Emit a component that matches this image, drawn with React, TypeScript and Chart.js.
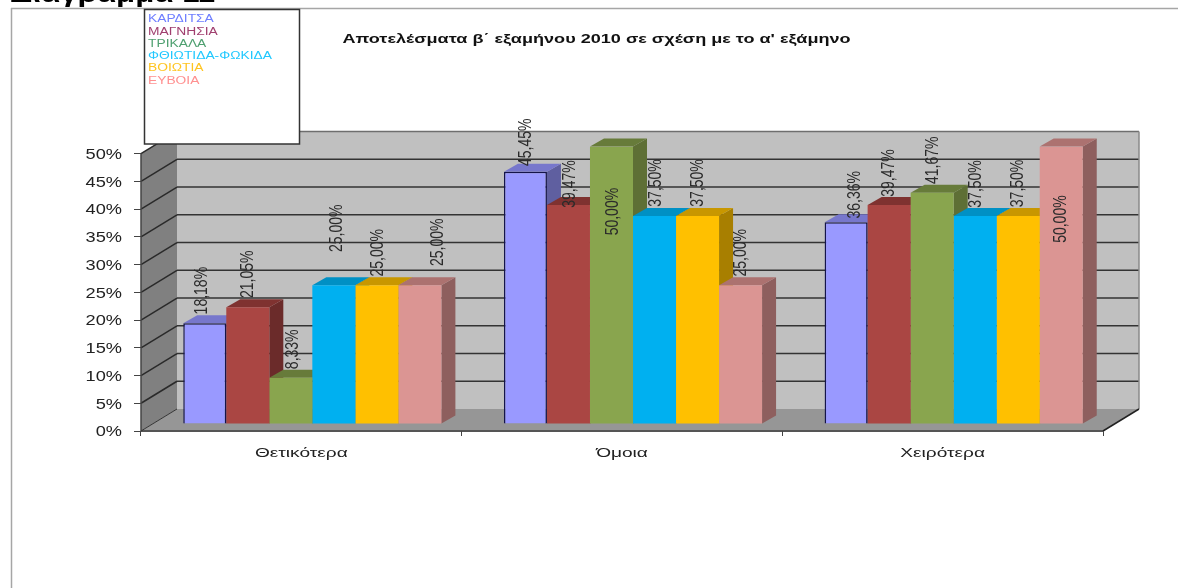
import React, { useEffect, useRef } from "react";
import { Chart, registerables } from "chart.js";

Chart.register(...registerables);

const categories = ["Θετικότερα", "Όμοια", "Χειρότερα"];
const seriesNames = ["ΚΑΡΔΙΤΣΑ", "ΜΑΓΝΗΣΙΑ", "ΤΡΙΚΑΛΑ", "ΦΘΙΩΤΙΔΑ-ΦΩΚΙΔΑ", "ΒΟΙΩΤΙΑ", "ΕΥΒΟΙΑ"];
const karditsa = [18.18, 45.45, 36.36];
const magnisia = [21.05, 39.47, 39.47];
const trikala = [8.33, 50.0, 41.67];
const fthiotida = [25.0, 37.5, 37.5];
const viotia = [25.0, 37.5, 37.5];
const evia = [25.0, 25.0, 50.0];
const seriesValues = [karditsa, magnisia, trikala, fthiotida, viotia, evia];

const chartTitle = "Αποτελέσματα β΄ εξαμήνου 2010 σε σχέση με το α' εξάμηνο";
const pageHeading = "Διάγραμμα 11";

const frontColors = ["#9999FF", "#AA4643", "#89A54E", "#00B0F0", "#FFC000", "#DB9593"];
const topColors = ["#7777CC", "#7F3230", "#677B3A", "#0090C4", "#C89700", "#AC7270"];
const sideColors = ["#5F5FA0", "#6B2B2A", "#5E6F35", "#0078A4", "#A87F00", "#8E5F5E"];
const legendColors = ["#6F7FFF", "#A0406F", "#4FA070", "#20C8FF", "#FFC420", "#FF9090"];

// label placement relative to the bar: [series][category]
const labelDx = [[-2.5, 0.5, 8.5], [0.5, 1.5, 0], [2, 1, 1], [3, 1, 0.5], [1, 0, 0], [18, 0, 0]];
const labelDy = [[-32.5, -29.5, -27.5], [-33, -21, -32], [-28.5, 65, -32.5], [-57, -33, -32], [-32.5, -33, -32.5], [-43, -32.5, 72.5]];

const WALL_DX = 36;
const WALL_DY = -22;
const BAR_DX = 11;
const BAR_DY = -7;
const DEPTH_DX = 14;
const DEPTH_DY = -8;

function poly(ctx: CanvasRenderingContext2D, pts: number[][], fill: string) {
  ctx.beginPath();
  pts.forEach((p, i) => (i ? ctx.lineTo(p[0], p[1]) : ctx.moveTo(p[0], p[1])));
  ctx.closePath();
  ctx.fillStyle = fill;
  ctx.fill();
}

function line(ctx: CanvasRenderingContext2D, x1: number, y1: number, x2: number, y2: number, color: string, w: number) {
  ctx.beginPath();
  ctx.moveTo(x1, y1);
  ctx.lineTo(x2, y2);
  ctx.strokeStyle = color;
  ctx.lineWidth = w;
  ctx.stroke();
}

// The reference's text is stretched horizontally: run `fn` with every fillText
// widened about its own anchor, so the library's alignment still holds.
function stretched(ctx: any, k: number, fn: () => void, dy = 0) {
  const orig = CanvasRenderingContext2D.prototype.fillText;
  ctx.fillText = function (t: string, x: number, y: number) {
    ctx.save();
    ctx.translate(x, y + dy);
    ctx.scale(k, 1);
    orig.call(ctx, t, 0, 0);
    ctx.restore();
  };
  fn();
  delete ctx.fillText;
}

const wallsPlugin = {
  id: "walls",
  afterLayout(chart: any) {
    const { ctx } = chart;
    const wrap = (obj: any, name: string, k: number, dy = 0) => {
      if (obj.__wrapped) return;
      obj.__wrapped = true;
      const fn = obj[name].bind(obj);
      obj[name] = (...args: any[]) => stretched(ctx, k, () => fn(...args), dy);
    };
    if (chart.titleBlock) wrap(chart.titleBlock, "draw", 1.39);
    chart.scales.x._computeLabelArea = () => undefined;
    chart.scales.y._computeLabelArea = () => undefined;
    wrap(chart.scales.x, "drawLabels", 1.47);
    wrap(chart.scales.y, "drawLabels", 1.3, 1.5);
  },
  beforeDraw(chart: any) {
    const { ctx, chartArea: a, scales } = chart;
    ctx.save();
    ctx.fillStyle = "#fff";
    ctx.fillRect(0, 0, chart.width, chart.height);

    // page furniture
    ctx.font = "bold 24px 'Liberation Sans'";
    ctx.fillStyle = "#000";
    ctx.textAlign = "left";
    ctx.textBaseline = "alphabetic";
    stretched(ctx, 1.3, () => ctx.fillText(pageHeading, 10, 2));
    line(ctx, 11, 8.5, 1178, 8.5, "#a6a6a6", 1.5);
    line(ctx, 11.5, 8, 11.5, 588, "#a6a6a6", 1.5);

    // back wall, side wall, floor
    poly(ctx, [[a.left + WALL_DX, a.top + WALL_DY], [a.right + WALL_DX, a.top + WALL_DY], [a.right + WALL_DX, a.bottom + WALL_DY], [a.left + WALL_DX, a.bottom + WALL_DY]], "#C0C0C0");
    poly(ctx, [[a.left, a.top], [a.left + WALL_DX, a.top + WALL_DY], [a.left + WALL_DX, a.bottom + WALL_DY], [a.left, a.bottom]], "#808080");
    poly(ctx, [[a.left, a.bottom], [a.left + WALL_DX, a.bottom + WALL_DY], [a.right + WALL_DX, a.bottom + WALL_DY], [a.right, a.bottom]], "#969696");

    for (const t of scales.y.ticks) {
      const y = scales.y.getPixelForValue(t.value);
      if (t.value > 0 && t.value < 50) {
        line(ctx, a.left + WALL_DX, y + WALL_DY, a.right + WALL_DX, y + WALL_DY, "#333", 1.5);
      }
      if (t.value > 0) {
        line(ctx, a.left, y, a.left + WALL_DX, y + WALL_DY, "#2a2a2a", 1.5);
      }
    }
    line(ctx, a.left + WALL_DX, a.top + WALL_DY, a.right + WALL_DX, a.top + WALL_DY, "#6e6e6e", 1.5);
    line(ctx, a.right + WALL_DX, a.top + WALL_DY, a.right + WALL_DX, a.bottom + WALL_DY, "#8a8a8a", 1.5);
    line(ctx, a.left, a.top, a.left, a.bottom, "#444", 1.5);
    line(ctx, a.left, a.bottom, a.right, a.bottom, "#555", 2);
    line(ctx, a.right, a.bottom, a.right + WALL_DX, a.bottom + WALL_DY, "#222", 1.5);
    line(ctx, a.left, a.bottom, a.left + WALL_DX, a.bottom + WALL_DY, "#333", 1);
    ctx.restore();
  },
  beforeDatasetsDraw(chart: any) {
    const { ctx } = chart;
    ctx.save();
    ctx.translate(BAR_DX, BAR_DY);
    for (let c = 0; c < categories.length; c++) {
      seriesValues.forEach((_, s) => {
        const el = chart.getDatasetMeta(s).data[c];
        const l = el.x - el.width / 2;
        const r = el.x + el.width / 2;
        poly(ctx, [[r, el.y], [r + DEPTH_DX, el.y + DEPTH_DY], [r + DEPTH_DX, el.base + DEPTH_DY], [r, el.base]], sideColors[s]);
        poly(ctx, [[l, el.y], [l + DEPTH_DX, el.y + DEPTH_DY], [r + DEPTH_DX, el.y + DEPTH_DY], [r, el.y]], topColors[s]);
      });
    }
    // keep translated for the fronts; undone in afterDatasetsDraw
  },
  afterDatasetsDraw(chart: any) {
    const { ctx } = chart;
    ctx.restore();
    ctx.save();
    ctx.font = "14px 'Liberation Sans'";
    ctx.fillStyle = "#2b2b2b";
    ctx.textAlign = "center";
    ctx.textBaseline = "middle";
    seriesValues.forEach((vals, s) => {
      vals.forEach((v, c) => {
        const el = chart.getDatasetMeta(s).data[c];
        ctx.save();
        ctx.translate(el.x + BAR_DX + labelDx[s][c], el.y + BAR_DY + labelDy[s][c]);
        ctx.rotate(-Math.PI / 2);
        ctx.scale(1, 1.3);
        ctx.fillText(v.toFixed(2).replace(".", ",") + "%", 0, 0);
        ctx.restore();
      });
    });
    ctx.restore();
  },
  afterDraw(chart: any) {
    const { ctx } = chart;
    ctx.save();
    ctx.fillStyle = "#fff";
    ctx.fillRect(144.5, 9.5, 155, 134.5);
    ctx.strokeStyle = "#333";
    ctx.lineWidth = 1.5;
    ctx.strokeRect(144.5, 9.5, 155, 134.5);
    ctx.font = "10px 'Liberation Sans'";
    ctx.textAlign = "left";
    ctx.textBaseline = "middle";
    stretched(ctx, 1.38, () => {
      seriesNames.forEach((n, i) => {
        ctx.fillStyle = legendColors[i];
        ctx.fillText(n, 148, 19.5 + i * 12.3);
      });
    });
    ctx.restore();
  },
};

export default function App() {
  const ref = useRef<HTMLCanvasElement>(null);
  useEffect(() => {
    const chart = new Chart(ref.current as HTMLCanvasElement, {
      type: "bar",
      data: {
        labels: categories,
        datasets: seriesValues.map((data, i) => ({
          label: seriesNames[i],
          data,
          backgroundColor: frontColors[i],
          borderColor: i === 0 ? "#14144a" : frontColors[i],
          borderWidth: i === 0 ? 1.5 : 0,
          categoryPercentage: 0.805,
          barPercentage: 1,
        })),
      },
      options: {
        animation: false,
        responsive: false,
        events: [],
        layout: { padding: { left: 90, right: 75, top: 0, bottom: 0 } },
        plugins: {
          legend: { display: false },
          tooltip: { enabled: false },
          title: {
            display: true,
            text: chartTitle,
            color: "#111",
            font: { family: "'Liberation Sans'", size: 13, weight: "bold" },
            padding: { top: 32, bottom: 106 },
          },
        },
        scales: {
          x: {
            afterFit: (s: any) => { s.height = 157; },
            grid: { drawOnChartArea: false, drawTicks: true, tickLength: 5, color: "#444" },
            border: { display: false },
            ticks: { color: "#222", font: { family: "'Liberation Sans'", size: 13 }, padding: 10, maxRotation: 0 },
          },
          y: {
            min: 0,
            max: 50,
            afterFit: (s: any) => { s.width = 51; },
            grid: { drawOnChartArea: false, drawTicks: true, tickLength: 7, color: "#444" },
            border: { display: false },
            ticks: { stepSize: 5, color: "#222", font: { family: "'Liberation Sans'", size: 14 }, padding: 12, callback: (v: any) => v + "%" },
          },
        },
      },
      plugins: [wallsPlugin],
    } as any);
    return () => chart.destroy();
  }, []);
  return (
    <canvas
      ref={ref}
      width={1178}
      height={588}
      style={{ position: "absolute", left: 0, top: 0, display: "block", filter: "blur(0.5px)" }}
    />
  );
}
